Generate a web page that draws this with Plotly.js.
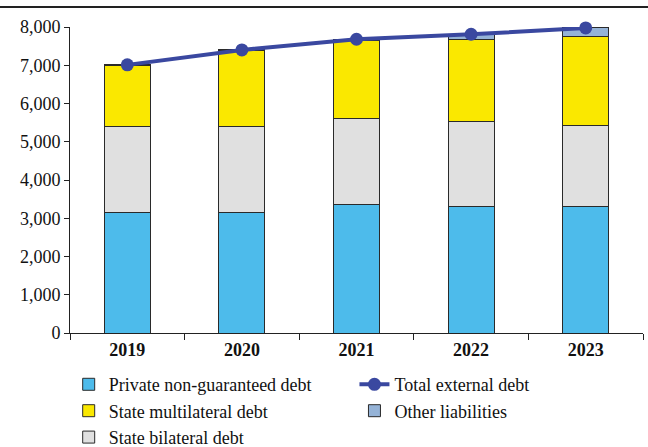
<!DOCTYPE html>
<html>
<head>
<meta charset="utf-8">
<script src="https://cdn.plot.ly/plotly-3.0.1.min.js"></script>
<style>
html,body{margin:0;padding:0;background:#fff;}
#wrap{position:relative;width:648px;height:447px;}
#chart{width:648px;height:447px;}
#topline{position:absolute;left:0;top:6px;width:648px;height:2px;background:#222;}
</style>
</head>
<body>
<div id="wrap"><div id="chart"></div><div id="topline"></div></div>
<script>
const years = ['2019', '2020', '2021', '2022', '2023'];
const privateDebt = [3160, 3160, 3370, 3320, 3320];
const bilateralDebt = [2250, 2250, 2250, 2200, 2110];
const multilateralDebt = [1590, 1970, 2030, 2150, 2320];
const otherLiabilities = [10, 20, 30, 140, 225];
const totalDebt = [7010, 7400, 7680, 7810, 7975];

const outline = {color: '#2a2a2a', width: 1};
function bar(name, y, color, rank, leg) {
  return {type: 'bar', name: name, x: years, y: y, legendrank: rank, legend: leg,
    marker: {color: color, line: outline}, hoverinfo: 'skip'};
}
const data = [
  bar('Private non-guaranteed debt', privateDebt, '#4dbbeb', 1, 'legend'),
  bar('State bilateral debt', bilateralDebt, '#e0e0e0', 3, 'legend'),
  bar('State multilateral debt', multilateralDebt, '#fae800', 2, 'legend'),
  bar('Other liabilities', otherLiabilities, '#95b3d7', 2, 'legend2'),
  {type: 'scatter', mode: 'lines+markers', name: 'Total external debt', x: years, y: totalDebt,
    legendrank: 1, legend: 'legend2', cliponaxis: false, line: {color: '#3a48a0', width: 4},
    marker: {color: '#3a48a0', size: 13}, hoverinfo: 'skip'}
];
const fam = 'Liberation Serif';
const font = {family: fam, size: 18, color: '#111'};
const legBase = {orientation: 'v', xref: 'container', yref: 'container', xanchor: 'left',
  yanchor: 'top', y: 0.181, traceorder: 'normal', font: font, tracegroupgap: 0,
  bgcolor: 'rgba(0,0,0,0)'};
const layout = {
  width: 648, height: 447,
  margin: {l: 70, r: 5, t: 27, b: 114, autoexpand: false},
  barmode: 'stack', bargap: 0.6,
  paper_bgcolor: '#fff', plot_bgcolor: '#fff',
  font: font,
  showlegend: true,
  legend: Object.assign({}, legBase, {x: 0.106}),
  legend2: Object.assign({}, legBase, {x: 0.547}),
  xaxis: {type: 'category', showline: true, linecolor: '#222', linewidth: 1,
    ticks: 'outside', ticklen: 6, tickcolor: '#222', tickson: 'boundaries',
    tickfont: {family: fam, size: 18, color: '#111', weight: 'bold'},
    showgrid: false, zeroline: false},
  yaxis: {range: [0, 8000], dtick: 1000, tickformat: ',', showline: true,
    linecolor: '#222', linewidth: 1, ticks: 'outside', ticklen: 5, tickcolor: '#222',
    showgrid: false, zeroline: false, tickfont: {family: fam, size: 18, color: '#111'}}
};
Plotly.newPlot('chart', data, layout, {displayModeBar: false, staticPlot: true});
</script>
</body>
</html>
